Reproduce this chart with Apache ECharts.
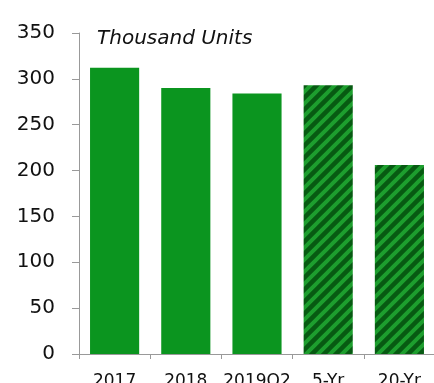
<!DOCTYPE html>
<html>
<head>
<meta charset="utf-8">
<script src="https://cdn.jsdelivr.net/npm/echarts@6/dist/echarts.min.js"></script>
<style>
  html, body { margin: 0; padding: 0; background: #fff; }
  #chart { width: 434px; height: 383px; }
</style>
</head>
<body>
<div id="chart"></div>
<script>
// Sales volume, thousand units
var categories = ['2017', '2018', '2019Q2', '5-Yr', '20-Yr'];
var values = [312, 290, 284, 293, 206];
// Averages (5-Yr, 20-Yr) are drawn hatched
var isAverage = [false, false, false, true, true];
var yTicks = { min: 0, max: 350, interval: 50 };

var SOLID_GREEN = '#0b951f';
var DARK_GREEN = '#075a12';
var STRIPE_GREEN = '#1d9e2e';

// Diagonal "/" hatch tile
function makeHatch() {
  var size = 12;
  var c = document.createElement('canvas');
  c.width = size; c.height = size;
  var ctx = c.getContext('2d');
  ctx.fillStyle = DARK_GREEN;
  ctx.fillRect(0, 0, size, size);
  ctx.strokeStyle = STRIPE_GREEN;
  ctx.lineWidth = 4;
  ctx.beginPath();
  ctx.moveTo(-size, size); ctx.lineTo(size, -size);
  ctx.moveTo(0, size); ctx.lineTo(size, 0);
  ctx.moveTo(0, size * 2); ctx.lineTo(size * 2, 0);
  ctx.stroke();
  return c;
}
var hatch = { image: makeHatch(), repeat: 'repeat' };

var barData = values.map(function (v, i) {
  return {
    value: v,
    itemStyle: { color: isAverage[i] ? hatch : SOLID_GREEN }
  };
});

var FONT = 'DejaVu Sans';
var chart = echarts.init(document.getElementById('chart'), null, { renderer: 'canvas' });
chart.setOption({
  animation: false,
  backgroundColor: '#ffffff',
  title: {
    text: 'Thousand Units',
    left: 92,
    top: 24,
    textStyle: {
      fontFamily: FONT,
      fontStyle: 'italic',
      fontWeight: 'normal',
      fontSize: 20,
      color: '#111'
    }
  },
  grid: {
    left: 79, right: -1, top: 33, bottom: 29,
    containLabel: false,
    outerBoundsMode: 'none'
  },
  xAxis: {
    type: 'category',
    data: categories,
    axisLine: { show: true, lineStyle: { color: '#999', width: 1 } },
    axisTick: { show: true, length: 5, interval: 0, lineStyle: { color: '#999' } },
    axisLabel: {
      interval: 0,
      margin: 19,
      fontFamily: FONT,
      fontSize: 17,
      color: '#111'
    }
  },
  yAxis: {
    type: 'value',
    min: yTicks.min,
    max: yTicks.max,
    interval: yTicks.interval,
    splitLine: { show: false },
    axisLine: { show: true, lineStyle: { color: '#999', width: 1 } },
    axisTick: { show: true, length: 7, lineStyle: { color: '#999' } },
    axisLabel: {
      margin: 24,
      fontFamily: FONT,
      fontSize: 20,
      color: '#111'
    }
  },
  series: [{
    type: 'bar',
    data: barData,
    barCategoryGap: '31%'
  }]
});
</script>
</body>
</html>
